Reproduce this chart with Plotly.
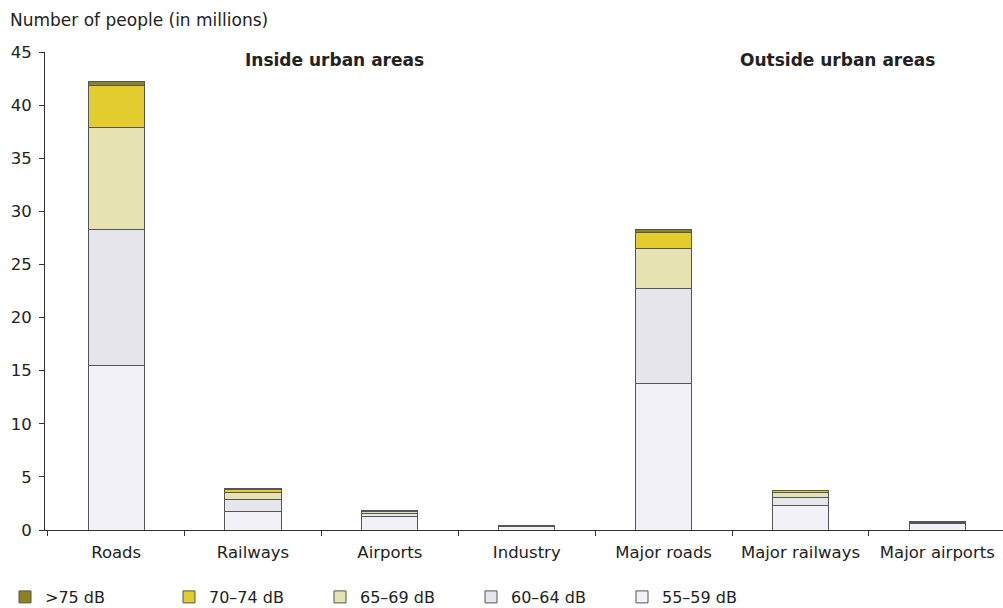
import plotly.graph_objects as go

categories = ["Roads", "Railways", "Airports", "Industry", "Major roads", "Major railways", "Major airports"]
db_55_59 = [15.5, 1.7, 1.25, 0.3, 13.8, 2.35, 0.6]
db_60_64 = [12.8, 1.2, 0.3, 0.1, 8.95, 0.75, 0.15]
db_65_69 = [9.55, 0.6, 0.2, 0.03, 3.75, 0.4, 0.03]
db_70_74 = [3.95, 0.3, 0.05, 0.0, 1.5, 0.2, 0.0]
db_75 = [0.4, 0.1, 0.02, 0.0, 0.3, 0.05, 0.0]

series = [
    ("55–59 dB", db_55_59, "#f1f1f7", 106),
    ("60–64 dB", db_60_64, "#e7e5ec", 106),
    ("65–69 dB", db_65_69, "#e7e2b2", 106),
    ("70–74 dB", db_70_74, "#e2cc2e", 106),
    (">75 dB", db_75, "#8c8320", 119),
]

font = "DejaVu Sans"
L, T, B = 45, 52, 78
PW, PH = 1003 - L, 608 - T - B


def px(x):
    return (x - L) / PW


def py(y):
    return (608 - B - y) / PH


fig = go.Figure()
for name, vals, col, lw in series:
    fig.add_trace(go.Bar(
        x=categories, y=vals, name=name, legendwidth=lw,
        marker=dict(color=col, line=dict(color="#555555", width=1)),
    ))

fig.update_layout(
    barmode="stack",
    bargap=0.59,
    width=1003, height=608,
    margin=dict(l=L, r=0, t=T, b=B, autoexpand=False),
    paper_bgcolor="white", plot_bgcolor="white",
    font=dict(family=font, size=16, color="#222222"),
    showlegend=True,
    legend=dict(
        orientation="h", traceorder="reversed",
        x=px(5), xref="paper", xanchor="left",
        y=py(597), yanchor="middle",
        itemwidth=30,
        font=dict(family=font, size=16),
    ),
    xaxis=dict(
        range=[-0.52, 6.48],
        showline=True, linecolor="#333333", linewidth=1,
        ticks="outside", tickson="boundaries", ticklen=5, tickcolor="#333333",
        ticklabelstandoff=7,
        showgrid=False, tickfont=dict(size=16.5), automargin=False,
    ),
    yaxis=dict(
        range=[0, 45], dtick=5,
        showline=True, linecolor="#333333", linewidth=1,
        ticks="outside", ticklen=5, tickcolor="#333333",
        ticklabelstandoff=4,
        showgrid=False, zeroline=False, tickfont=dict(size=16.5), automargin=False,
    ),
    annotations=[
        dict(text="Number of people (in millions)", x=px(8), y=py(20), xref="paper", yref="paper",
             showarrow=False, xanchor="left", yanchor="middle", font=dict(size=17)),
        dict(text="<b>Inside urban areas</b>", x=px(334), y=py(60), xref="paper", yref="paper",
             showarrow=False, xanchor="center", yanchor="middle", font=dict(size=17)),
        dict(text="<b>Outside urban areas</b>", x=px(837), y=py(60), xref="paper", yref="paper",
             showarrow=False, xanchor="center", yanchor="middle", font=dict(size=17)),
    ],
)

fig.write_html(
    "out.html",
    config={"displayModeBar": False},
    post_script="document.body.style.margin='0';document.body.style.overflow='hidden';",
)
